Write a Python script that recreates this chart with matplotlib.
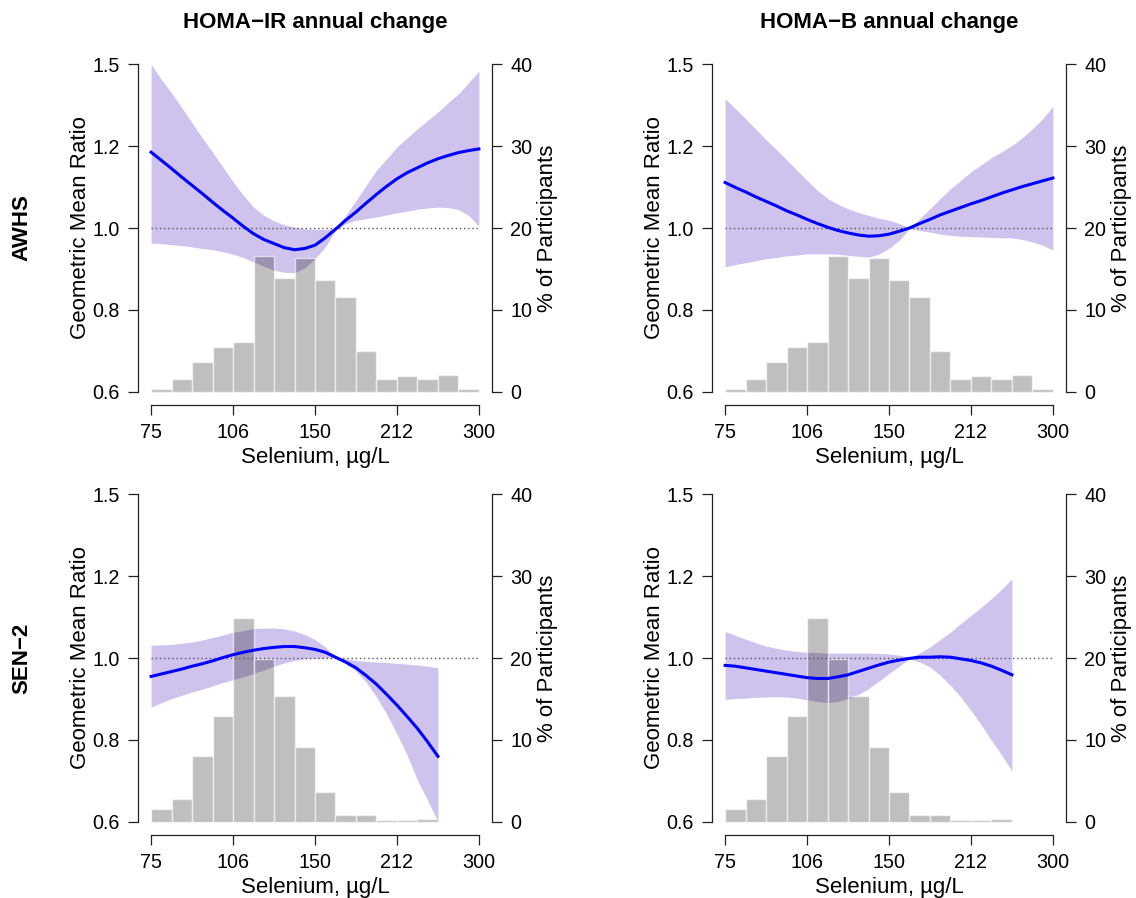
import numpy as np
import matplotlib
matplotlib.use("Agg")
import matplotlib.pyplot as plt
from matplotlib.ticker import FixedLocator, NullLocator

plt.rcParams['font.family'] = ['Liberation Sans', 'DejaVu Sans']

# selenium grid (ug/L) where the curves were read
sel = [75, 78.32, 81.79, 85.41, 89.19, 93.14, 97.26, 101.57, 106.07, 110.77,
       115.67, 120.79, 126.14, 131.72, 137.56, 143.65, 150, 156.64, 163.58,
       170.82, 178.38, 186.28, 194.53, 203.14, 212.13, 221.52, 231.33, 241.57,
       252.27, 263.44, 275.10, 287.28, 300]
# histogram bin edges
bin_edges = [75, 81.79, 89.19, 97.26, 106.07, 115.67, 126.14, 137.56, 150,
             163.58, 178.38, 194.53, 212.13, 231.33, 252.27, 275.10, 300]

# % of participants per bin
hist_awhs = [0.4, 1.6, 3.7, 5.5, 6.1, 16.6, 13.9, 16.3, 13.6, 11.6, 5.0, 1.6, 2.0, 1.6, 2.1, 0.3]
hist_sen2 = [1.6, 2.8, 8.0, 12.9, 24.9, 19.9, 15.4, 9.2, 3.6, 0.8, 0.9, 0.2, 0.2, 0.4, 0.0, 0.0]

# geometric mean ratio with lower / upper CI
ir_awhs = [1.185, 1.165, 1.145, 1.124, 1.104, 1.084, 1.063, 1.043, 1.024, 1.004,
           0.986, 0.972, 0.962, 0.952, 0.947, 0.950, 0.958, 0.976, 0.997, 1.019,
           1.039, 1.061, 1.082, 1.102, 1.120, 1.135, 1.147, 1.159, 1.169, 1.177,
           1.184, 1.189, 1.193]
ir_awhs_lo = [0.963, 0.962, 0.959, 0.957, 0.954, 0.950, 0.947, 0.942, 0.936, 0.928,
              0.917, 0.907, 0.897, 0.892, 0.891, 0.903, 0.925, 0.954, 0.994, 1.011,
              1.019, 1.023, 1.027, 1.032, 1.037, 1.041, 1.046, 1.049, 1.051, 1.050,
              1.045, 1.031, 1.004]
ir_awhs_hi = [1.499, 1.444, 1.394, 1.340, 1.285, 1.230, 1.185, 1.149, 1.113, 1.080,
              1.051, 1.031, 1.017, 1.008, 1.002, 0.998, 0.997, 0.996, 1.000, 1.031,
              1.067, 1.104, 1.141, 1.169, 1.198, 1.230, 1.263, 1.294, 1.324, 1.359,
              1.391, 1.432, 1.474]

b_awhs = [1.111, 1.099, 1.088, 1.076, 1.065, 1.054, 1.042, 1.032, 1.021, 1.011,
          1.002, 0.994, 0.988, 0.983, 0.980, 0.981, 0.985, 0.992, 1.000, 1.011,
          1.021, 1.032, 1.041, 1.050, 1.059, 1.067, 1.076, 1.085, 1.093, 1.101,
          1.108, 1.115, 1.122]
b_awhs_lo = [0.905, 0.911, 0.915, 0.920, 0.925, 0.928, 0.932, 0.934, 0.937, 0.937,
             0.937, 0.936, 0.933, 0.931, 0.929, 0.936, 0.950, 0.970, 0.998, 0.994,
             0.990, 0.985, 0.982, 0.980, 0.979, 0.978, 0.977, 0.976, 0.976, 0.972,
             0.966, 0.958, 0.946]
b_awhs_hi = [1.373, 1.337, 1.300, 1.261, 1.223, 1.191, 1.167, 1.141, 1.116, 1.092,
             1.072, 1.058, 1.047, 1.038, 1.031, 1.024, 1.019, 1.011, 1.000, 1.023,
             1.047, 1.072, 1.096, 1.116, 1.137, 1.154, 1.172, 1.186, 1.202, 1.230,
             1.263, 1.300, 1.345]

# SEN-2 curves stop at 252 ug/L
ir_sen2 = [0.955, 0.961, 0.967, 0.973, 0.980, 0.986, 0.993, 1.001, 1.008, 1.014,
           1.019, 1.023, 1.026, 1.028, 1.028, 1.025, 1.021, 1.014, 1.002, 0.990,
           0.976, 0.957, 0.936, 0.911, 0.885, 0.857, 0.828, 0.795, 0.760]
ir_sen2_lo = [0.880, 0.891, 0.901, 0.909, 0.917, 0.924, 0.932, 0.940, 0.947, 0.954,
              0.962, 0.971, 0.980, 0.988, 0.994, 0.998, 0.999, 1.000, 1.000, 0.986,
              0.968, 0.941, 0.905, 0.863, 0.815, 0.763, 0.702, 0.653, 0.600]
ir_sen2_hi = [1.031, 1.032, 1.033, 1.036, 1.039, 1.044, 1.050, 1.056, 1.063, 1.067,
              1.072, 1.073, 1.073, 1.071, 1.066, 1.057, 1.045, 1.027, 1.002, 0.998,
              0.994, 0.992, 0.990, 0.989, 0.987, 0.985, 0.983, 0.980, 0.976]

b_sen2 = [0.982, 0.980, 0.976, 0.972, 0.968, 0.964, 0.960, 0.956, 0.952, 0.950,
          0.950, 0.954, 0.959, 0.967, 0.975, 0.983, 0.990, 0.995, 0.999, 1.002,
          1.002, 1.003, 1.002, 0.998, 0.994, 0.988, 0.980, 0.970, 0.959]
b_sen2_lo = [0.899, 0.901, 0.902, 0.904, 0.905, 0.905, 0.905, 0.902, 0.898, 0.894,
             0.891, 0.894, 0.901, 0.911, 0.925, 0.943, 0.962, 0.980, 0.998, 0.990,
             0.978, 0.958, 0.933, 0.905, 0.872, 0.837, 0.799, 0.763, 0.724]
b_sen2_hi = [1.065, 1.055, 1.046, 1.037, 1.029, 1.024, 1.019, 1.016, 1.014, 1.013,
             1.012, 1.012, 1.012, 1.012, 1.012, 1.011, 1.010, 1.007, 1.001, 1.012,
             1.027, 1.045, 1.063, 1.084, 1.104, 1.124, 1.145, 1.168, 1.193]

gmr_ticks = [0.6, 0.8, 1.0, 1.2, 1.5]
gmr_labels = ['0.6', '0.8', '1.0', '1.2', '1.5']
pct_ticks = [0, 10, 20, 30, 40]
sel_ticks = [75, 106.07, 150, 212.13, 300]
sel_labels = ['75', '106', '150', '212', '300']

col_titles = ['HOMA\u2212IR annual change', 'HOMA\u2212B annual change']
row_titles = ['AWHS', 'SEN\u22122']

panels = [
    [(ir_awhs, ir_awhs_lo, ir_awhs_hi, hist_awhs), (b_awhs, b_awhs_lo, b_awhs_hi, hist_awhs)],
    [(ir_sen2, ir_sen2_lo, ir_sen2_hi, hist_sen2), (b_sen2, b_sen2_lo, b_sen2_hi, hist_sen2)],
]

# the GMR axis has evenly spaced ticks 0.6, 0.8, 1.0, 1.2, 1.5
knot_v = [0.4, 0.6, 0.8, 1.0, 1.2, 1.5, 1.8]
knot_p = [-1, 0, 1, 2, 3, 4, 5]
def fwd(v):
    return np.interp(v, knot_v, knot_p)
def inv(p):
    return np.interp(p, knot_p, knot_v)

W, H = 1136, 898
fig = plt.figure(figsize=(W / 100, H / 100), dpi=100)

band_col = '#CFC3EE'
ext = 4 ** 0.04

for r in range(2):
    for c in range(2):
        est, lo, hi, hist = panels[r][c]
        left = (138 + 574 * c) / W
        bottom = (898 - 405 - 430 * r) / H
        rect = [left, bottom, 354 / W, 354 / H]

        ax = fig.add_axes(rect)
        ax.set_xscale('log')
        ax.set_yscale('function', functions=(fwd, inv))
        ax.set_xlim(75 / ext, 300 * ext)
        ax.set_ylim(inv(-0.16), inv(4.16))

        n = len(est)
        ax.fill_between(sel[:n], lo, hi, color=band_col, linewidth=0)

        ax2 = ax.twinx()
        ax2.set_ylim(-1.6, 41.6)
        edges = np.array(bin_edges)
        ax2.bar(edges[:-1], hist, width=np.diff(edges), align='edge',
                color=(0, 0, 0, 0.25), edgecolor=(1, 1, 1, 0.6), linewidth=1.0)

        ax3 = fig.add_axes(rect, sharex=ax, sharey=ax)
        ax3.set_axis_off()
        ax3.patch.set_visible(False)
        ax3.plot([75, 300], [1, 1], color='#555555', lw=1.0, ls=(0, (1, 2)))
        ax3.plot(sel[:n], est, color='#0000FF', lw=2.2)

        for s in ['top', 'right']:
            ax.spines[s].set_visible(False)
        ax.spines['left'].set_bounds(0.6, 1.5)
        ax.spines['bottom'].set_bounds(75, 300)
        for s in ['top', 'left', 'bottom']:
            ax2.spines[s].set_visible(False)
        ax2.spines['right'].set_bounds(0, 40)
        for sp in list(ax.spines.values()) + list(ax2.spines.values()):
            sp.set_linewidth(0.9)
            sp.set_color('#222222')

        ax.xaxis.set_major_locator(FixedLocator(sel_ticks))
        ax.xaxis.set_minor_locator(NullLocator())
        ax.set_xticklabels(sel_labels)
        ax.yaxis.set_major_locator(FixedLocator(gmr_ticks))
        ax.yaxis.set_minor_locator(NullLocator())
        ax.set_yticklabels(gmr_labels)
        ax2.set_yticks(pct_ticks)
        ax2.yaxis.set_minor_locator(NullLocator())
        for a in (ax, ax2):
            a.tick_params(direction='out', length=7, width=0.9, labelsize=14.2,
                          pad=6, color='#222222')

        cx = (315 + 574 * c) / W
        fig.text(cx, 1 - (463 + 430 * r) / H, 'Selenium, \u00b5g/L', ha='center',
                 va='baseline', fontsize=16)
        fig.text((80 + 574 * c) / W, 1 - (228 + 430 * r) / H, 'Geometric Mean Ratio',
                 rotation=90, ha='center', va='center', fontsize=16)
        fig.text((548 + 574 * c) / W, 1 - (228 + 430 * r) / H, '% of Participants',
                 rotation=90, ha='center', va='center', fontsize=16)

for c in range(2):
    fig.text((315 + 574 * c) / W, 1 - 28 / H, col_titles[c], ha='center',
             va='baseline', fontsize=16, fontweight='bold')
for r in range(2):
    fig.text(22 / W, 1 - (228 + 430 * r) / H, row_titles[r], rotation=90,
             ha='center', va='center', fontsize=16, fontweight='bold')

fig.savefig('out.png', dpi=100)
